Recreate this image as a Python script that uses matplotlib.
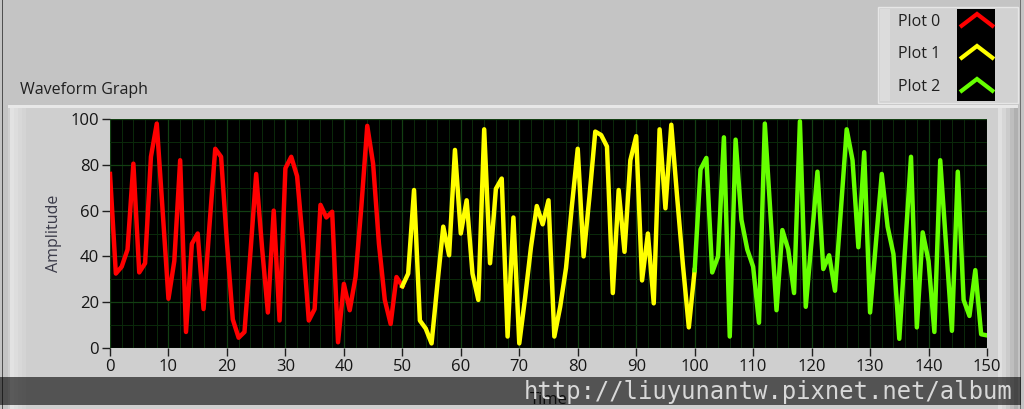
import numpy as np
import matplotlib.pyplot as plt
from matplotlib.patches import Rectangle
from matplotlib.lines import Line2D
from matplotlib.ticker import MultipleLocator

# waveform values (one sample per unit of time)
x0 = np.arange(0, 51)
plot0 = [76, 32.5, 35.5, 43, 80.5, 33, 37, 83.5, 98, 60,
         21.5, 38, 82, 7, 45.5, 50, 17, 53, 87, 83.5,
         46, 12.5, 4.5, 7, 41, 76, 44, 15.5, 60, 12,
         78.5, 83.5, 75, 46, 12, 17, 62.5, 57, 59.5, 2.5,
         28, 16.5, 31, 62, 97, 80.5, 45.5, 21, 10.5, 31, 27]
x1 = np.arange(50, 101)
plot1 = [27, 32.5, 69, 12, 8.5, 2, 28, 53, 40.5, 86.5,
         50, 64.5, 32.5, 21, 95.5, 37, 69.5, 74, 5, 57,
         2, 22, 44, 62, 54, 64.5, 5, 18, 35, 62,
         87, 40, 66, 94.5, 93, 88, 24, 69, 42, 82,
         92.5, 29.5, 50, 19.5, 95.5, 61, 97.5, 66, 36, 9, 34]
x2 = np.arange(100, 151)
plot2 = [34, 78, 83, 33, 40, 92, 5, 91, 56, 43,
         35.5, 11, 98, 57, 16.5, 51.5, 43, 24, 99, 18,
         47, 77, 34.5, 40.5, 25, 60, 95.5, 82, 44, 85.5,
         15.5, 46, 76, 53, 41, 4, 44, 83.5, 9, 50.5,
         38, 7, 82, 45, 7.5, 77, 21, 14, 34, 6, 5.5]

names = ['Plot 0', 'Plot 1', 'Plot 2']
colors = ['#ff0000', '#ffff00', '#66ff00']

W, H = 1024, 409
plt.rcParams['font.family'] = ['Open Sans', 'DejaVu Sans']

fig = plt.figure(figsize=(W / 100, H / 100), dpi=100, facecolor='#c4c4c4')


def box(x_a, y_a, x_b, y_b, **kw):
    # rectangle given in pixel coordinates (origin top left)
    r = Rectangle((x_a / W, 1 - y_b / H), (x_b - x_a) / W, (y_b - y_a) / H,
                  transform=fig.transFigure, **kw)
    fig.add_artist(r)
    return r


def fx(x):
    return x / W


def fy(y):
    return 1 - y / H


# panel frame behind the graph
box(8, 105, 1018, 409, facecolor='#cfcfcf', edgecolor='none', zorder=-5)
box(8, 105, 1018, 108, facecolor='#e8e8e8', edgecolor='none', zorder=-4)
for i, c in enumerate(['#e2e2e2', '#dddddd', '#d8d8d8', '#d4d4d4']):
    box(10 + i * 4, 108, 14 + i * 4, 409, facecolor=c, edgecolor='none', zorder=-4)
for i, c in enumerate(['#e0e0e0', '#d6d6d6', '#cbcbcb', '#bebebe', '#b0b0b0']):
    box(998 + i * 4, 108, 1002 + i * 4, 409, facecolor=c, edgecolor='none', zorder=-4)
box(2, 0, 3, 409, facecolor='#505050', edgecolor='none', zorder=-4)
box(1020, 0, 1021, 409, facecolor='#707070', edgecolor='none', zorder=-4)

fig.text(fx(20), fy(90), 'Waveform Graph', fontsize=11.5, color='#202020',
         va='center', ha='left')

# legend box
box(878, 7, 1018, 103, facecolor='#d2d2d2', edgecolor='#e6e6e6', lw=1, zorder=-4)
box(880, 9, 890, 101, facecolor='#dcdcdc', edgecolor='none', zorder=-3)
box(957, 9, 995, 101, facecolor='black', edgecolor='none', zorder=-3)
label_y = [22, 54, 87]
for name, c, ly in zip(names, colors, label_y):
    fig.text(fx(898), fy(ly), name, fontsize=11.5, color='#202020', va='center', ha='left')
    fig.add_artist(Line2D([fx(960), fx(977), fx(994)], [fy(ly + 5), fy(ly - 8), fy(ly + 5)],
                          transform=fig.transFigure, color=c, lw=3,
                          solid_joinstyle='miter', solid_capstyle='butt'))

ax = fig.add_axes([110 / W, 1 - 348 / H, 877 / W, 229 / H])
ax.set_facecolor('black')
for s in ax.spines.values():
    s.set_visible(False)

ax.plot(x0, plot0, color=colors[0], lw=3.2, solid_joinstyle='round', zorder=3)
ax.plot(x1, plot1, color=colors[1], lw=3.2, solid_joinstyle='round', zorder=3)
ax.plot(x2, plot2, color=colors[2], lw=3.2, solid_joinstyle='round', zorder=3)

ax.set_xlim(0, 150)
ax.set_ylim(0, 100)
ax.xaxis.set_major_locator(MultipleLocator(10))
ax.xaxis.set_minor_locator(MultipleLocator(2))
ax.yaxis.set_major_locator(MultipleLocator(20))
ax.yaxis.set_minor_locator(MultipleLocator(10))
ax.grid(True, which='major', color='#123f12', lw=0.9)
ax.grid(True, which='minor', color='#0b2a0b', lw=0.7)
ax.set_axisbelow(True)
ax.tick_params(which='major', direction='out', length=6, width=1, color='#202020',
               labelsize=12, labelcolor='#151515', pad=2)
ax.tick_params(which='minor', length=0)

ax.set_ylabel('Amplitude', fontsize=11.5, color='#3a3a48', labelpad=6)
ax.set_xlabel('Time', fontsize=12, color='#202020', labelpad=12)

# watermark band at the bottom of the picture
box(0, 377, 1021, 405, facecolor='black', alpha=0.6, edgecolor='none', zorder=5)
fig.text(fx(1012), fy(392), 'http://liuyunantw.pixnet.net/album', fontsize=17.2,
         family='DejaVu Sans Mono', color='#d8d8d8', ha='right', va='center', zorder=6)

fig.savefig('out.png', dpi=100, facecolor=fig.get_facecolor())
